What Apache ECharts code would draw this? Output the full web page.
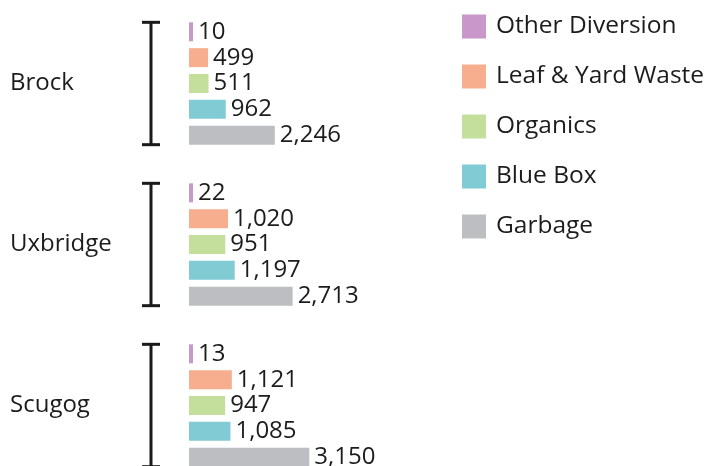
<!DOCTYPE html>
<html>
<head>
<meta charset="utf-8">
<script src="https://cdn.jsdelivr.net/npm/echarts@6/dist/echarts.min.js"></script>
<style>html,body{margin:0;padding:0;background:#fff}#c{width:712px;height:466px}</style>
</head>
<body>
<div id="c"></div>
<script>
const categories = ['Brock', 'Uxbridge', 'Scugog'];
const seriesNames = ['Other Diversion', 'Leaf & Yard Waste', 'Organics', 'Blue Box', 'Garbage'];
const otherDiversion = [10, 22, 13];
const leafYardWaste = [499, 1020, 1121];
const organics = [511, 951, 947];
const blueBox = [962, 1197, 1085];
const garbage = [2246, 2713, 3150];
const colors = ['#c997c9', '#f6ae8e', '#c4df9c', '#80cbd4', '#bdbec1'];

const values = [otherDiversion, leafYardWaste, organics, blueBox, garbage];
const FONT = '"Open Sans", sans-serif';
const TXT = '#1c1c1c';

const chart = echarts.init(document.getElementById('c'), null, {renderer: 'canvas'});

const barSeries = seriesNames.map((name, i) => ({
  type: 'bar',
  name: name,
  data: values[i],
  barWidth: 19,
  barGap: '36%',
  barMinHeight: i === 0 ? 4 : 0,
  itemStyle: {color: colors[i]},
  label: {
    show: true,
    position: 'right',
    distance: 5,
    fontFamily: FONT,
    fontSize: 24,
    color: TXT,
    formatter: p => p.value.toLocaleString('en-US')
  },
  emphasis: {disabled: true}
}));

const bracketSeries = {
  type: 'custom',
  name: 'bracket',
  silent: true,
  clip: false,
  data: categories.map(c => [0, c]),
  encode: {x: 0, y: 1},
  renderItem: function (params, api) {
    const pt = api.coord([0, api.value(1)]);
    const band = api.size([0, 1])[1];
    const half = band * 0.38;
    const x = pt[0] - 38;
    const style = {stroke: '#1a1a1a', lineWidth: 3};
    return {
      type: 'group',
      children: [
        {type: 'line', shape: {x1: x, y1: pt[1] - half, x2: x, y2: pt[1] + half}, style: style},
        {type: 'line', shape: {x1: x - 9, y1: pt[1] - half, x2: x + 9, y2: pt[1] - half}, style: style},
        {type: 'line', shape: {x1: x - 9, y1: pt[1] + half, x2: x + 9, y2: pt[1] + half}, style: style}
      ]
    };
  }
};

chart.setOption({
  backgroundColor: '#fff',
  animation: false,
  color: colors,
  grid: {left: 189, top: 3, width: 229.2, height: 483, containLabel: false, outerBoundsMode: 'none'},
  xAxis: {type: 'value', min: 0, max: 6000, show: false},
  yAxis: {
    type: 'category',
    data: categories,
    inverse: true,
    axisLine: {show: false},
    axisTick: {show: false},
    axisLabel: {
      align: 'left',
      margin: 179,
      fontFamily: FONT,
      fontSize: 24,
      color: TXT
    }
  },
  legend: {
    data: seriesNames,
    orient: 'vertical',
    left: 462,
    top: 14,
    padding: 0,
    itemWidth: 24,
    itemHeight: 24,
    itemGap: 25,
    icon: 'rect',
    selectedMode: false,
    textStyle: {fontFamily: FONT, fontSize: 24.5, color: TXT, lineHeight: 24, height: 24, padding: [0, 0, 0, 5]}
  },
  series: [...barSeries, bracketSeries]
});
</script>
</body>
</html>
